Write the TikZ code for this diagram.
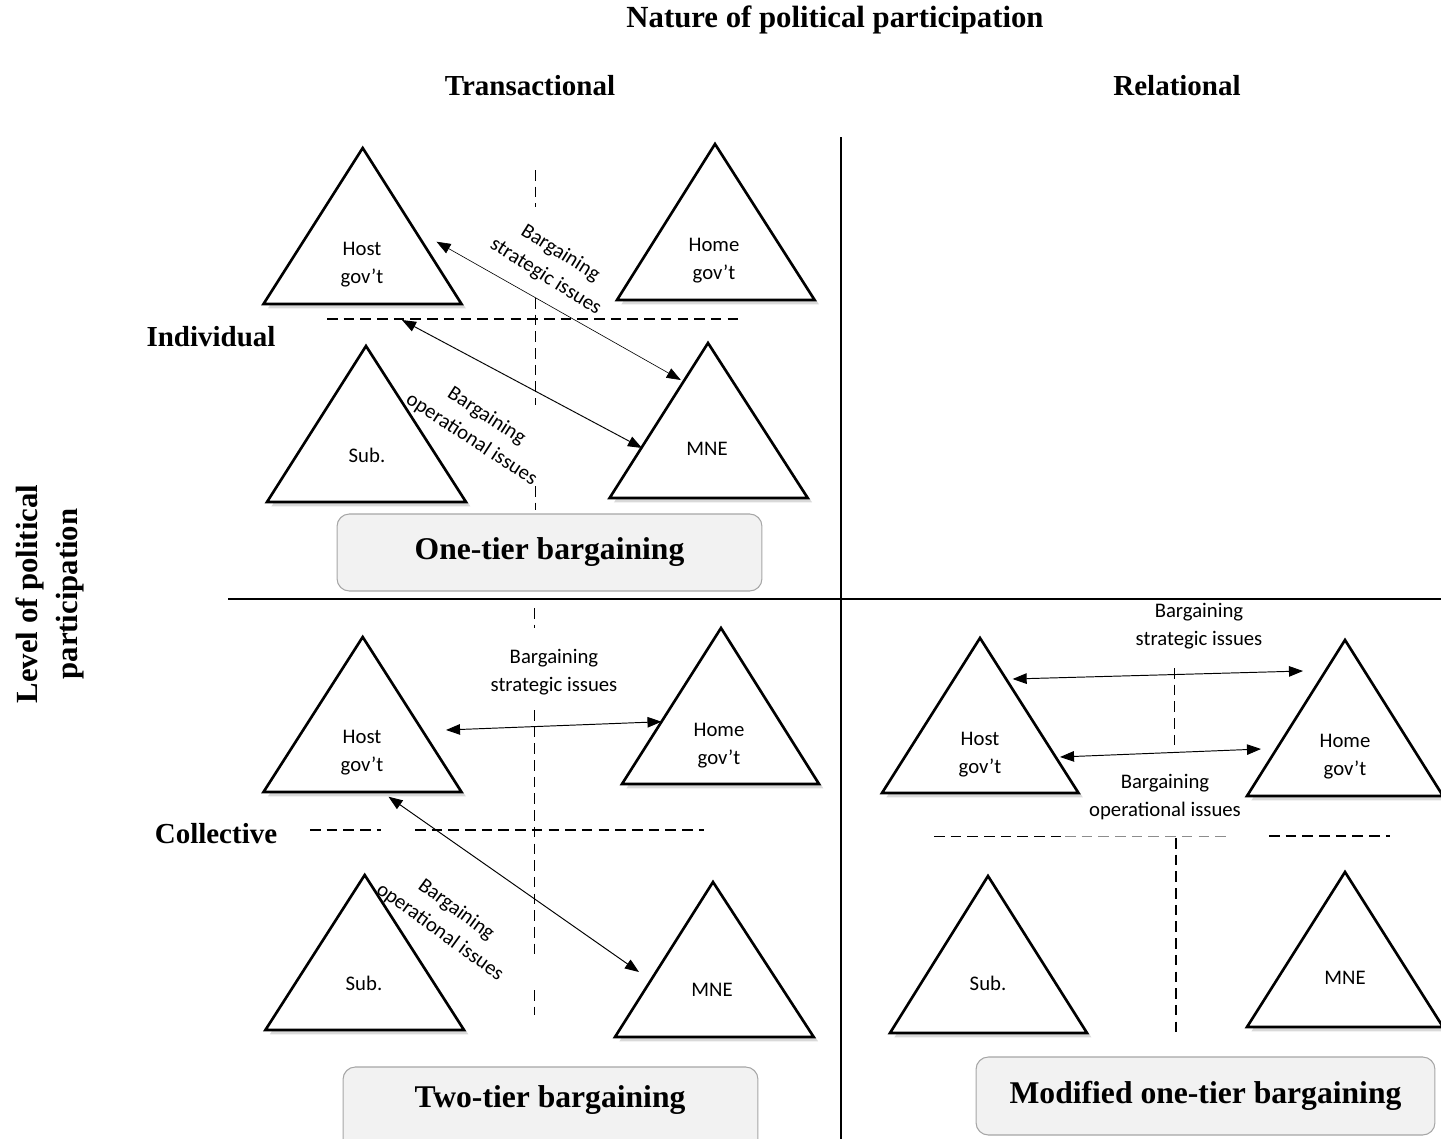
\documentclass[tikz,border=0pt]{standalone}
\usepackage{fontspec}
\setmainfont{Liberation Serif}
\newfontfamily\lblfont{Carlito}
\usetikzlibrary{arrows.meta,shadows}
\newcommand\mytri[6]{% name, apex x, apex y, left x, right x, base y
  \coordinate (#1-a) at (#2,#3);
  \coordinate (#1-l) at (#4,#6);
  \coordinate (#1-r) at (#5,#6);
  \draw[tri] (#1-a) -- (#1-l) -- (#1-r) -- cycle;}
\begin{document}
\begin{tikzpicture}[x=0.02cm,y=-0.02cm,
  tri/.style={line width=1.5pt, fill=white, line join=miter,
    drop shadow={shadow xshift=2.5pt, shadow yshift=-2.5pt, opacity=0.3}},
  lbl/.style={font=\lblfont\fontsize{11.8}{15.8}\selectfont, align=center, inner sep=0pt},
  head/.style={font=\bfseries\fontsize{16.5}{20}\selectfont, inner sep=0pt},
  boxst/.style={draw=black!35, fill=black!5, rounded corners=7pt, line width=0.6pt,
    font=\bfseries\fontsize{18}{22}\selectfont, inner sep=0pt},
  btext/.style={font=\bfseries\fontsize{18}{22}\selectfont, inner sep=0pt},
  dsh/.style={line width=0.9pt, dash pattern=on 6pt off 3.5pt},
  biarrow/.style={{Triangle[length=8pt,width=6pt]}-{Triangle[length=8pt,width=6pt]}, line width=0.55pt},
]
\useasboundingbox (0,0) rectangle (1441,1139);

% headings
\node[head, font=\bfseries\fontsize{17.5}{21}\selectfont] (title) at (835,20) {Nature of political participation};
\node[head] (trans) at (530,86) {Transactional};
\node[head] (rel) at (1177,86) {Relational};
\node[head] (indiv) at (211,337) {Individual};
\node[head] (coll) at (216,834) {Collective};
\node[head, font=\bfseries\fontsize{17.5}{22.5}\selectfont, align=center, rotate=90] (level) at (50,594) {Level of political\\participation};

% quadrant dividers
\draw[line width=0.6pt] (841,137) -- (841,1139);
\draw[line width=0.6pt] (228,599) -- (1441,599);

% ---------- Q1: one-tier bargaining ----------
\draw[dsh] (327,319) -- (740,319);
\draw[dsh] (535.5,170) -- (535.5,207);
\draw[dsh] (535.5,298) -- (535.5,405);
\draw[dsh] (535.5,486) -- (535.5,510);

\mytri{h1}{362.7}{148}{263.5}{461.5}{304}
\mytri{g1}{715}{144}{617}{814.6}{300}
\mytri{s1}{366}{346}{267}{466}{502}
\mytri{m1}{708}{343}{609.6}{807.7}{498}
\node[lbl] (h1t) at (362,265) {Host\\gov’t};
\node[lbl] (g1t) at (714,261) {Home\\gov’t};
\node[lbl] (s1t) at (367,455) {Sub.};
\node[lbl] (m1t) at (707,449) {MNE};

\coordinate (q1sa) at (436.5,241.7);
\coordinate (q1sb) at (680.8,380);
\coordinate (q1oa) at (402,320);
\coordinate (q1ob) at (642,448);
\draw[biarrow, line width=0.35pt] (q1sa) -- (q1sb);
\draw[biarrow] (q1oa) -- (q1ob);
\node[lbl, rotate=-32] (q1sl) at (553,265) {Bargaining\\strategic issues};
\node[lbl, rotate=-33] (q1ol) at (479,428) {Bargaining\\operational issues};

\node[boxst, minimum width=8.5cm, minimum height=1.54cm] (b1) at (549.5,552.5) {One-tier bargaining};

% ---------- Q2: two-tier bargaining ----------
\draw[dsh] (310,830) -- (381,830);
\draw[dsh] (415,830) -- (704,830);
\draw[dsh] (534.6,608) -- (534.6,628);
\draw[dsh] (534.6,710) -- (534.6,955);
\draw[dsh] (534.6,990) -- (534.6,1015);

\mytri{h2}{362.7}{637}{263.5}{461.5}{792}
\mytri{g2}{721}{628}{622}{819}{784}
\mytri{s2}{364.7}{875}{265.4}{464}{1030}
\mytri{m2}{713}{882}{615}{813.7}{1037}
\node[lbl] (h2t) at (362,753) {Host\\gov’t};
\node[lbl] (g2t) at (719,746) {Home\\gov’t};
\node[lbl] (s2t) at (364,983) {Sub.};
\node[lbl] (m2t) at (712,990) {MNE};

\coordinate (q2sa) at (446,730);
\coordinate (q2sb) at (661.5,721.7);
\coordinate (q2oa) at (388.5,796.7);
\coordinate (q2ob) at (639,972);
\draw[biarrow] (q2sa) -- (q2sb);
\draw[biarrow] (q2oa) -- (q2ob);
\node[lbl] (q2sl) at (554,672) {Bargaining\\strategic issues};
\node[lbl, rotate=-36] (q2ol) at (448,921) {Bargaining\\operational issues};

\node[boxst, minimum width=8.3cm, minimum height=1.8cm] (b2) at (550.5,1112) {};
\node[btext] (b2t) at (550,1100) {Two-tier bargaining};

% ---------- Q3: modified one-tier bargaining ----------
\draw[dsh] (934,836.5) -- (1065,836.5);
\draw[dsh, black!45] (1065,836.5) -- (1230,836.5);
\draw[dsh] (1269,836) -- (1390,836);
\draw[dsh] (1174.5,668) -- (1174.5,745);
\draw[dsh] (1176,838) -- (1176,1033);

\mytri{h3}{980}{638}{882}{1078.5}{793}
\mytri{g3}{1345}{640}{1247}{1443}{796}
\mytri{s3}{988}{876}{890}{1087}{1033}
\mytri{m3}{1345}{872}{1247}{1443}{1027}
\node[lbl] (h3t) at (980,755) {Host\\gov’t};
\node[lbl] (g3t) at (1345,757) {Home\\gov’t};
\node[lbl] (s3t) at (988,983) {Sub.};
\node[lbl] (m3t) at (1345,978) {MNE};

\coordinate (q3sa) at (1012.6,679);
\coordinate (q3sb) at (1303,671);
\coordinate (q3oa) at (1060,757);
\coordinate (q3ob) at (1261,749);
\draw[biarrow] (q3sa) -- (q3sb);
\draw[biarrow] (q3oa) -- (q3ob);
\node[lbl] (q3sl) at (1199,626) {Bargaining\\strategic issues};
\node[lbl] (q3ol) at (1165,797) {Bargaining\\operational issues};

\node[boxst, minimum width=9.18cm, minimum height=1.56cm] (b3) at (1205.5,1096) {Modified one-tier bargaining};
\end{tikzpicture}
\end{document}
